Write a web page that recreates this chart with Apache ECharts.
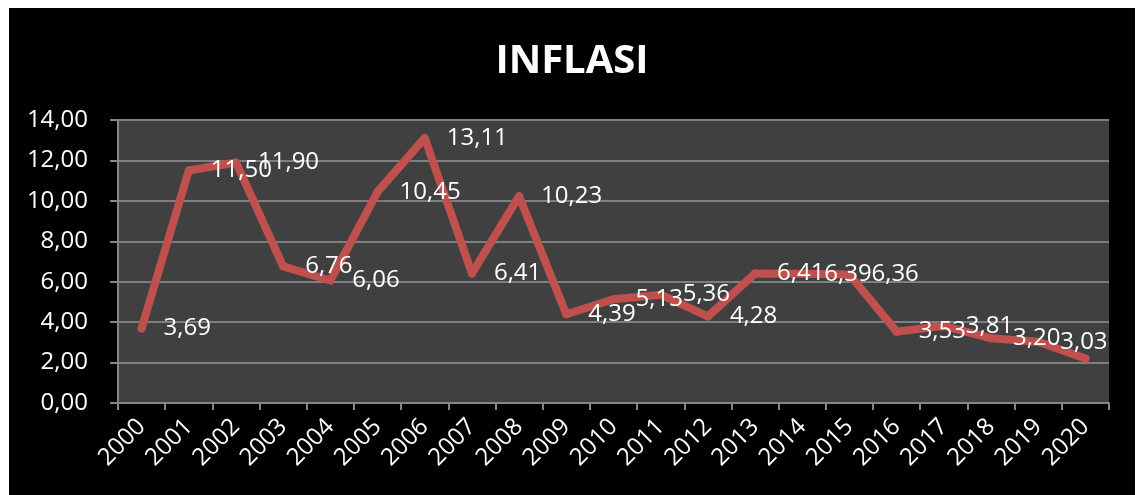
<!DOCTYPE html>
<html>
<head>
<meta charset="utf-8">
<title>INFLASI</title>
<script src="https://cdn.jsdelivr.net/npm/echarts@6/dist/echarts.min.js"></script>
<style>
  html, body { margin: 0; padding: 0; background: #fff; }
  #inflasi_chart { position: absolute; left: 9px; top: 8px; width: 1126px; height: 487px; }
</style>
</head>
<body>
<!-- inflasi per tahun, garis tunggal -->
<div id="inflasi_chart"></div>
<script>
const years = ['2000', '2001', '2002', '2003', '2004', '2005', '2006', '2007', '2008', '2009', '2010',
  '2011', '2012', '2013', '2014', '2015', '2016', '2017', '2018', '2019', '2020']
// nilai inflasi (%), 2020 tanpa label di gambar -> ditaksir dari garis
const inflasi = [3.69, 11.50, 11.90, 6.76, 6.06, 10.45, 13.11, 6.41, 10.23, 4.39, 5.13,
  5.36, 4.28, 6.41, 6.39, 6.36, 3.53, 3.81, 3.20, 3.03, 2.2]
const yTicks = [0, 2, 4, 6, 8, 10, 12, 14]

const fmt = v => Number(v).toFixed(2).replace('.', ',')
const font = 'Open Sans'

const seriesData = inflasi.map((v, i) => {
  // titik terakhir tidak punya label
  if (i === inflasi.length - 1) return { value: v, label: { show: false } }
  return v
})

const myChart = echarts.init(document.getElementById('inflasi_chart'))
const option = {
  backgroundColor: '#000',
  animation: false,
  title: {
    text: 'INFLASI',
    left: 'center',
    top: 29,
    textStyle: {
      color: '#fff',
      fontFamily: font,
      fontWeight: 'bold',
      fontSize: 40
    }
  },
  grid: {
    left: 109,
    right: 26,
    top: 112,
    bottom: 92,
    show: true,
    backgroundColor: '#404040',
    borderWidth: 0
  },
  xAxis: {
    type: 'category',
    data: years,
    boundaryGap: true,
    axisLine: { lineStyle: { color: '#868686', width: 2 } },
    axisTick: { show: true, length: 7, lineStyle: { color: '#868686', width: 2 } },
    axisLabel: {
      color: '#fff',
      fontFamily: font,
      fontSize: 24,
      rotate: 45,
      margin: 20,
      interval: 0
    }
  },
  yAxis: {
    type: 'value',
    min: yTicks[0],
    max: yTicks[yTicks.length - 1],
    interval: 2,
    axisLine: { show: true, lineStyle: { color: '#868686', width: 2 } },
    axisTick: { show: true, length: 8, lineStyle: { color: '#868686', width: 2 } },
    splitLine: { lineStyle: { color: '#7f7f7f', width: 2 } },
    axisLabel: {
      color: '#fff',
      fontFamily: font,
      fontSize: 24,
      margin: 30,
      formatter: fmt
    }
  },
  series: [{
    name: 'Inflasi',
    type: 'line',
    data: seriesData,
    symbol: 'circle',
    symbolSize: 8,
    itemStyle: { color: '#C0504D' },
    lineStyle: { color: '#C0504D', width: 8, cap: 'round', join: 'round' },
    label: {
      show: true,
      position: 'right',
      distance: 18,
      color: '#fff',
      fontFamily: font,
      fontSize: 24,
      formatter: p => fmt(p.value)
    }
  }]
}
myChart.setOption(option)
window.addEventListener('resize', function () {
  myChart.resize()
})
</script>
</body>
</html>
